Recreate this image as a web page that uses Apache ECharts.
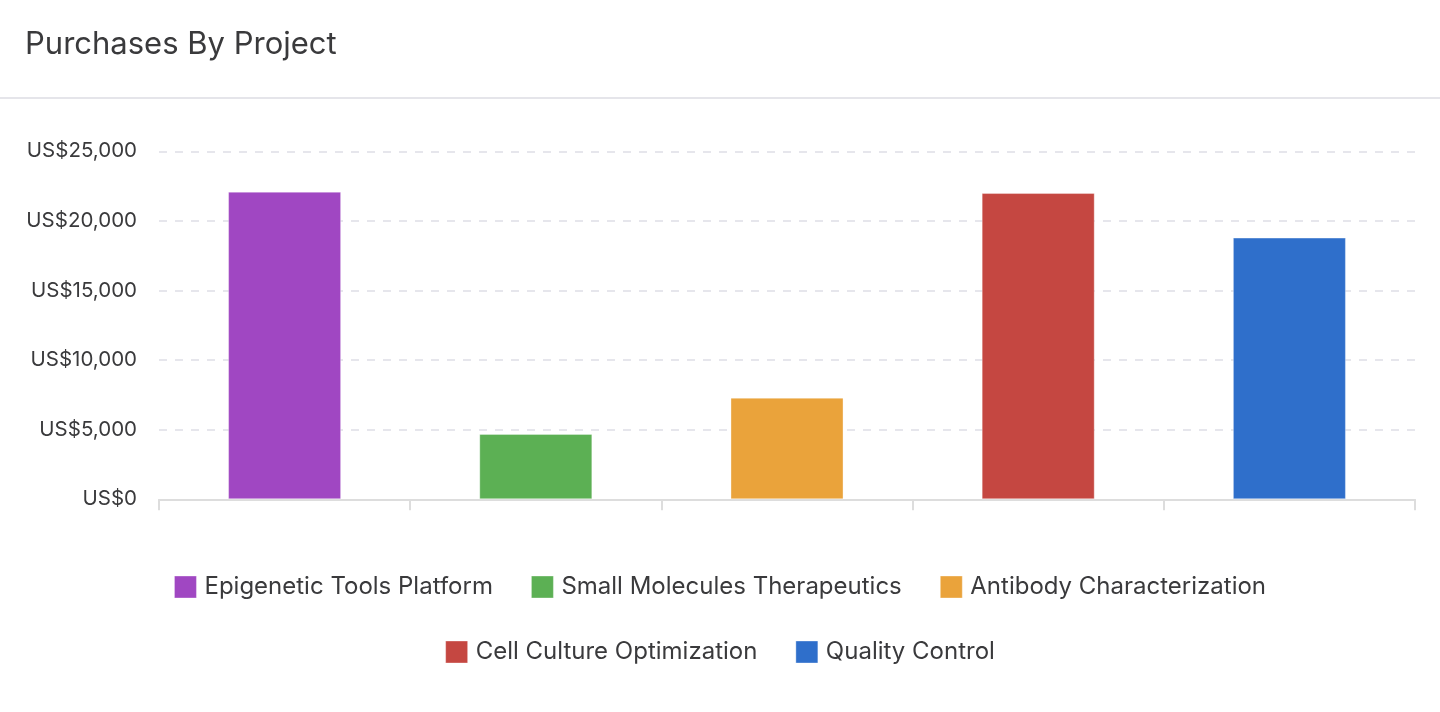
<!DOCTYPE html>
<html>
<head>
<meta charset="utf-8">
<script src="https://cdn.jsdelivr.net/npm/echarts@6/dist/echarts.min.js"></script>
<style>
html,body{margin:0;padding:0;background:#fff;}
#chart{width:1440px;height:712px;}
</style>
</head>
<body>
<div id="chart"></div>
<script>
const titleText = 'Purchases By Project';
const projects = ['Epigenetic Tools Platform', 'Small Molecules Therapeutics', 'Antibody Characterization', 'Cell Culture Optimization', 'Quality Control'];
const purchases = [22100, 4700, 7300, 22000, 18800];
const colors = ['#a047c2', '#5cb054', '#eaa33b', '#c54741', '#2f6fcb'];
const yTicks = [0, 5000, 10000, 15000, 20000, 25000];

const FONT = 'Inter, "Noto Sans", sans-serif';
const chart = echarts.init(document.getElementById('chart'));

const series = projects.map((name, i) => ({
  name: name,
  type: 'bar',
  stack: 'total',
  barWidth: '45%',
  itemStyle: { color: colors[i], borderColor: 'rgba(255,255,255,0.35)', borderWidth: 1 },
  data: projects.map((p, j) => (j === i ? purchases[i] : '-'))
}));

const fmt = v => 'US$' + v.toLocaleString('en-US');

const legendBase = {
  left: 'center',
  icon: 'rect',
  itemWidth: 22,
  itemHeight: 22,
  itemGap: 38,
  itemStyle: { borderColor: 'rgba(255,255,255,0.35)', borderWidth: 1 },
  textStyle: { fontFamily: FONT, fontSize: 24, color: '#3a3a3c', padding: [0, 0, 0, 3] }
};

chart.setOption({
  animation: false,
  color: colors,
  title: {
    text: titleText,
    left: 20,
    top: 24,
    textStyle: { fontFamily: FONT, fontSize: 31, fontWeight: 'normal', color: '#3a3a3c' }
  },
  graphic: [{
    type: 'line',
    shape: { x1: 0, y1: 98, x2: 1440, y2: 98 },
    style: { stroke: '#e5e5ea', lineWidth: 2 }
  }],
  grid: { left: 159, right: 25, top: 151.3, bottom: 212.7, containLabel: false },
  xAxis: {
    type: 'category',
    data: projects,
    axisLine: { lineStyle: { color: '#dddddd', width: 2 } },
    axisTick: { show: true, length: 11, lineStyle: { color: '#dddddd', width: 2 } },
    axisLabel: { show: false },
    splitLine: { show: false }
  },
  yAxis: {
    type: 'value',
    min: yTicks[0],
    max: yTicks[yTicks.length - 1],
    interval: yTicks[1] - yTicks[0],
    axisLine: { show: false },
    axisTick: { show: false },
    axisLabel: { formatter: fmt, fontFamily: FONT, fontSize: 20.5, color: '#3a3a3c', margin: 22 },
    splitLine: { lineStyle: { color: '#e6e6ec', type: [8, 8], width: 2 } }
  },
  legend: [
    Object.assign({}, legendBase, { data: projects.slice(0, 3), top: 570 }),
    Object.assign({}, legendBase, { data: projects.slice(3), top: 635 })
  ],
  series: series
});
</script>
</body>
</html>
